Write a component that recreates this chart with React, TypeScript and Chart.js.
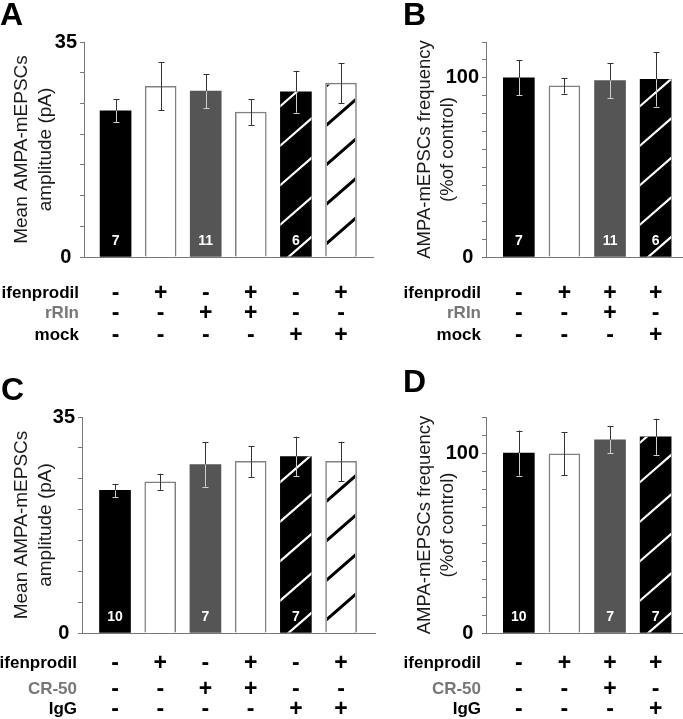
import React, { useEffect, useRef } from 'react';
import { Chart, registerables } from 'chart.js';

Chart.register(...registerables);

const FONT = '"Liberation Sans", Arial, Helvetica, sans-serif';

// ---------- Panel A : amplitude, rRIn ----------
const aValues = [23.8, 27.8, 27.0, 23.6, 26.9, 28.3];
const aErrors = [1.9, 3.9, 2.8, 2.1, 3.4, 3.3];
const aCounts = ['7', '', '11', '', '6', ''];
const aIfenprodil = ['-', '+', '-', '+', '-', '+'];
const aRRIn = ['-', '-', '+', '+', '-', '-'];
const aMock = ['-', '-', '-', '-', '+', '+'];
const aYLabels = [0, 35];

// ---------- Panel B : frequency, rRIn ----------
const bValues = [100, 95.5, 98.5, 99.2];
const bErrors = [9.7, 4.3, 9.7, 15.2];
const bCounts = ['7', '', '11', '6'];
const bIfenprodil = ['-', '+', '+', '+'];
const bRRIn = ['-', '-', '+', '-'];
const bMock = ['-', '-', '-', '+'];
const bYLabels = [0, 100];

// ---------- Panel C : amplitude, CR-50 ----------
const cValues = [23.1, 24.5, 27.3, 27.8, 28.6, 27.8];
const cErrors = [1.05, 1.3, 3.6, 2.5, 3.2, 3.2];
const cCounts = ['10', '', '7', '', '7', ''];
const cIfenprodil = ['-', '+', '-', '+', '-', '+'];
const cCR50 = ['-', '-', '+', '+', '-', '-'];
const cIgG = ['-', '-', '-', '-', '+', '+'];
const cYLabels = [0, 35];

// ---------- Panel D : frequency, CR-50 ----------
const dValues = [100, 99.5, 107.3, 109];
const dErrors = [12.5, 11.9, 7.5, 10];
const dCounts = ['10', '', '7', '7'];
const dIfenprodil = ['-', '+', '+', '+'];
const dCR50 = ['-', '-', '+', '-'];
const dIgG = ['-', '-', '-', '+'];
const dYLabels = [0, 100];

const sixBarStyles = ['black', 'white', 'gray', 'white', 'blackHatch', 'whiteHatch'];
const fourBarStyles = ['black', 'white', 'gray', 'blackHatch'];

const ampTitle = ['Mean AMPA-mEPSCs', 'amplitude (pA)'];
const freqTitle = ['AMPA-mEPSCs frequency', '(%of control)'];

type Row = { label: string; color: string; signs: string[] };
type Panel = {
  letter: string;
  letterPos: [number, number];
  left: number; top: number; width: number; height: number;
  padding: { left: number; top: number; right: number; bottom: number };
  yWidth: number;
  yMax: number; yStep: number; yLabels: number[];
  xMin: number; xMax: number;
  title: string[]; titleSize: number; titlePad: number;
  values: number[]; errors: number[]; counts: string[]; styles: string[];
  rows: Row[]; rowOffsets: number[];
};

const FILL: Record<string, string> = {
  black: '#000000', white: '#ffffff', gray: '#555555', blackHatch: '#000000', whiteHatch: '#ffffff',
};

const panels: Panel[] = [
  {
    letter: 'A', letterPos: [0, 25],
    left: 0, top: 0, width: 400, height: 350,
    padding: { left: 0, top: 42, right: 27, bottom: 93 },
    yWidth: 84, yMax: 35, yStep: 5, yLabels: aYLabels,
    xMin: -0.7, xMax: 5.71,
    title: ampTitle, titleSize: 19, titlePad: 10,
    values: aValues, errors: aErrors, counts: aCounts, styles: sixBarStyles,
    rows: [
      { label: 'ifenprodil', color: '#000', signs: aIfenprodil },
      { label: 'rRIn', color: '#777', signs: aRRIn },
      { label: 'mock', color: '#000', signs: aMock },
    ],
    rowOffsets: [41, 61, 83],
  },
  {
    letter: 'B', letterPos: [3, 25],
    left: 400, top: 0, width: 283, height: 350,
    padding: { left: 0, top: 42, right: 0, bottom: 93 },
    yWidth: 86, yMax: 120, yStep: 10, yLabels: bYLabels,
    xMin: -0.72, xMax: 3.6,
    title: freqTitle, titleSize: 18.5, titlePad: 13,
    values: bValues, errors: bErrors, counts: bCounts, styles: fourBarStyles,
    rows: [
      { label: 'ifenprodil', color: '#000', signs: bIfenprodil },
      { label: 'rRIn', color: '#777', signs: bRRIn },
      { label: 'mock', color: '#000', signs: bMock },
    ],
    rowOffsets: [41, 61, 83],
  },
  {
    letter: 'C', letterPos: [1, 40],
    left: 0, top: 360, width: 400, height: 359,
    padding: { left: 0, top: 57, right: 25, bottom: 86 },
    yWidth: 82, yMax: 35, yStep: 5, yLabels: cYLabels,
    xMin: -0.73, xMax: 5.75,
    title: ampTitle, titleSize: 19, titlePad: 10,
    values: cValues, errors: cErrors, counts: cCounts, styles: sixBarStyles,
    rows: [
      { label: 'ifenprodil', color: '#000', signs: cIfenprodil },
      { label: 'CR-50', color: '#777', signs: cCR50 },
      { label: 'IgG', color: '#000', signs: cIgG },
    ],
    rowOffsets: [35, 60.5, 81],
  },
  {
    letter: 'D', letterPos: [3, 32],
    left: 400, top: 360, width: 283, height: 359,
    padding: { left: 0, top: 57, right: 0, bottom: 86 },
    yWidth: 86, yMax: 120, yStep: 10, yLabels: dYLabels,
    xMin: -0.72, xMax: 3.6,
    title: freqTitle, titleSize: 18.5, titlePad: 13,
    values: dValues, errors: dErrors, counts: dCounts, styles: fourBarStyles,
    rows: [
      { label: 'ifenprodil', color: '#000', signs: dIfenprodil },
      { label: 'CR-50', color: '#777', signs: dCR50 },
      { label: 'IgG', color: '#000', signs: dIgG },
    ],
    rowOffsets: [35, 60.5, 81],
  },
];

function makeDecor(p: Panel) {
  return {
    id: 'decor' + p.letter,
    afterDatasetsDraw(chart: any) {
      const ctx: CanvasRenderingContext2D = chart.ctx;
      const meta = chart.getDatasetMeta(0);
      const ys = chart.scales.y;
      meta.data.forEach((el: any, i: number) => {
        const { x, y, base, width } = el.getProps(['x', 'y', 'base', 'width'], true);
        const style = p.styles[i];
        const L = x - width / 2;
        const R = x + width / 2;
        // hatching
        if (style === 'blackHatch' || style === 'whiteHatch') {
          const white = style === 'whiteHatch';
          const inset = white ? 1.5 : 0;
          const slope = 0.87;
          const spacing = 39.5;
          const offset = white ? 12 : 32;
          ctx.save();
          ctx.beginPath();
          ctx.rect(L + inset, y + inset, width - 2 * inset, base - y - inset);
          ctx.clip();
          ctx.beginPath();
          for (let yl = base - offset + 2 * spacing; yl > y - spacing; yl -= spacing) {
            ctx.moveTo(L - 2, yl + 2 * slope);
            ctx.lineTo(R + 2, yl - slope * (width + 2));
          }
          ctx.strokeStyle = white ? '#000' : '#fff';
          ctx.lineWidth = white ? 3 : 2.2;
          ctx.stroke();
          ctx.restore();
        }
        // error bars
        const v = p.values[i];
        const e = p.errors[i];
        const top = ys.getPixelForValue(v + e);
        const bot = ys.getPixelForValue(v - e);
        const px = Math.round(x) + 0.5;
        const dark = !(style === 'white' || style === 'whiteHatch');
        ctx.save();
        ctx.lineWidth = 1;
        ctx.strokeStyle = '#333';
        ctx.beginPath();
        ctx.moveTo(px, top);
        ctx.lineTo(px, y);
        ctx.moveTo(px - 3, Math.round(top) + 0.5);
        ctx.lineTo(px + 3, Math.round(top) + 0.5);
        ctx.stroke();
        ctx.strokeStyle = dark ? '#cfcfcf' : '#333';
        ctx.beginPath();
        ctx.moveTo(px, y);
        ctx.lineTo(px, bot);
        ctx.moveTo(px - 3, Math.round(bot) + 0.5);
        ctx.lineTo(px + 3, Math.round(bot) + 0.5);
        ctx.stroke();
        ctx.restore();
        // n labels
        const n = p.counts[i];
        if (n) {
          ctx.save();
          ctx.fillStyle = '#fff';
          ctx.font = `bold 14px ${FONT}`;
          ctx.textAlign = 'center';
          ctx.textBaseline = 'alphabetic';
          ctx.fillText(n, x, base - 12);
          ctx.restore();
        }
      });
    },
    afterDraw(chart: any) {
      const ctx: CanvasRenderingContext2D = chart.ctx;
      const xs = chart.scales.x;
      const area = chart.chartArea;
      ctx.save();
      p.rows.forEach((row, r) => {
        const yb = area.bottom + p.rowOffsets[r];
        ctx.font = `bold 17px ${FONT}`;
        ctx.fillStyle = row.color;
        ctx.textAlign = 'right';
        ctx.textBaseline = 'alphabetic';
        ctx.fillText(row.label, area.left - 5, yb);
        ctx.font = `bold 23px ${FONT}`;
        ctx.fillStyle = '#000';
        ctx.textAlign = 'center';
        row.signs.forEach((s, i) => {
          ctx.fillText(s, xs.getPixelForValue(i), yb + 2);
        });
      });
      ctx.font = `bold 32px ${FONT}`;
      ctx.fillStyle = '#000';
      ctx.textAlign = 'left';
      ctx.textBaseline = 'alphabetic';
      ctx.fillText(p.letter, p.letterPos[0], p.letterPos[1]);
      ctx.restore();
    },
  };
}

function PanelChart({ p }: { p: Panel }) {
  const ref = useRef<HTMLCanvasElement>(null);
  useEffect(() => {
    const canvas = ref.current;
    if (!canvas) return;
    const chart = new Chart(canvas, {
      type: 'bar',
      data: {
        datasets: [
          {
            data: p.values.map((v, i) => ({ x: i, y: v })),
            backgroundColor: p.styles.map((s) => FILL[s]),
            borderColor: p.styles.map((s) => (s === 'white' || s === 'whiteHatch' ? '#808080' : 'rgba(0,0,0,0)')),
            borderWidth: p.styles.map((s) => (s === 'white' || s === 'whiteHatch' ? 1.5 : 0)),
            barThickness: 31,
          } as any,
        ],
      },
      options: {
        animation: false,
        responsive: false,
        events: [],
        layout: { padding: p.padding },
        plugins: { legend: { display: false }, tooltip: { enabled: false } },
        scales: {
          x: {
            type: 'linear',
            min: p.xMin,
            max: p.xMax,
            offset: false,
            ticks: { display: false },
            grid: { display: false },
            border: { display: true, color: '#777', width: 1 },
            afterFit: (s: any) => { s.height = 0; },
          },
          y: {
            type: 'linear',
            min: 0,
            max: p.yMax,
            ticks: {
              stepSize: p.yStep,
              autoSkip: false,
              padding: 3,
              color: '#000',
              font: { family: FONT, size: 20, weight: 'bold' },
              callback: (value: any) =>
                p.yLabels.includes(Number(value)) ? (Number(value) === 0 ? '0 ' : String(value)) : '',
            },
            grid: { display: true, drawOnChartArea: false, drawTicks: true, tickLength: 4, color: '#777', lineWidth: 1 },
            border: { display: true, color: '#777', width: 1 },
            title: {
              display: true,
              text: p.title,
              color: '#1a1a1a',
              font: { family: FONT, size: p.titleSize, lineHeight: 1.25 },
              padding: { top: p.titlePad, bottom: 0 },
            },
            afterFit: (s: any) => { s.width = p.yWidth; },
          },
        },
      } as any,
      plugins: [makeDecor(p)],
    });
    return () => chart.destroy();
  }, [p]);
  return (
    <canvas
      ref={ref}
      width={p.width}
      height={p.height}
      style={{ position: 'absolute', left: p.left, top: p.top, width: p.width, height: p.height, display: 'block' }}
    />
  );
}

export default function App() {
  return (
    <div style={{ position: 'fixed', left: 0, top: 0, width: 683, height: 719, background: '#fff', overflow: 'hidden' }}>
      {panels.map((p) => (
        <PanelChart key={p.letter} p={p} />
      ))}
    </div>
  );
}
